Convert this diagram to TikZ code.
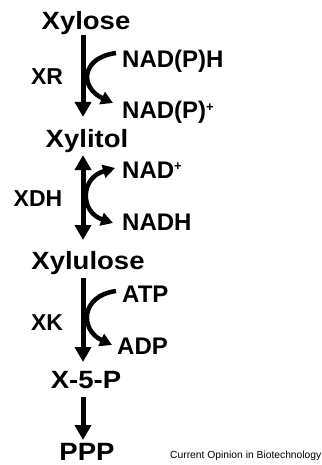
\documentclass[tikz,border=0pt]{standalone}
\usepackage{fontspec}
\setmainfont{Liberation Sans}
\newfontfamily\widesans[FakeStretch=1.1]{Liberation Sans}
\usetikzlibrary{arrows.meta}
\newcommand{\supplus}{\raisebox{7pt}{\fontsize{13}{13}\selectfont\bfseries+}}
\tikzset{
  metab/.style={font=\widesans\fontsize{25}{25}\selectfont\bfseries, inner sep=0pt, anchor=base},
  enz/.style={font=\fontsize{23}{23}\selectfont\bfseries, inner sep=0pt, anchor=base},
  cof/.style={font=\fontsize{24}{24}\selectfont\bfseries, inner sep=0pt, anchor=base west},
  mainarrow/.style={line width=5pt, -{Triangle[length=15pt,width=16pt]}},
  mainboth/.style={line width=5pt, {Triangle[length=15pt,width=16pt]}-{Triangle[length=15pt,width=16pt]}},
  sidearrow/.style={line width=4.5pt, -{Triangle[length=12pt,width=13pt]}},
  sideboth/.style={line width=4.5pt, {Triangle[length=12pt,width=13pt]}-{Triangle[length=12pt,width=13pt]}},
}
\begin{document}
\begin{tikzpicture}[x=1pt,y=-1pt]
\useasboundingbox (0,0) rectangle (321,465);

% metabolites
\node[metab] (xylose)   at (86,30)  {Xylose};
\node[metab] (xylitol)  at (87,147) {Xylitol};
\node[metab] (xylulose) at (88,269) {Xylulose};
\node[metab] (x5p)      at (86,388) {X-5-P};
\node[metab] (ppp)      at (87,460) {PPP};

% enzymes
\node[enz] (xr)  at (47,85)  {XR};
\node[enz] (xdh) at (38,206) {XDH};
\node[enz] (xk)  at (47,330) {XK};

% cofactors
\node[cof] (nadph)   at (122,68)  {NAD(P)H};
\node[cof] (nadp)    at (122,119) {NAD(P)\supplus};
\node[cof] (nadplus) at (122,178) {NAD\supplus};
\node[cof] (nadh)    at (122,230) {NADH};
\node[cof] (atp)     at (122,302) {ATP};
\node[cof] (adp)     at (117,354) {ADP};

% arrow end points
\coordinate (a1s) at (83,35);   \coordinate (a1e) at (83,117);
\coordinate (c1s) at (116,53);  \coordinate (c1e) at (113,103);
\coordinate (a2s) at (83,155);  \coordinate (a2e) at (83,240);
\coordinate (c2s) at (115,168); \coordinate (c2e) at (113,223);
\coordinate (a3s) at (83,278);  \coordinate (a3e) at (83,362);
\coordinate (c3s) at (116,291); \coordinate (c3e) at (112,345);
\coordinate (a4s) at (83,397);  \coordinate (a4e) at (83,440);

% reaction steps
\draw[mainarrow] (a1s) -- (a1e);
\draw[sidearrow] (c1s) .. controls (80,58) and (80,88) .. (c1e);
\draw[mainboth] (a2s) -- (a2e);
\draw[sideboth] (c2s) .. controls (80,178) and (80,212) .. (c2e);
\draw[mainarrow] (a3s) -- (a3e);
\draw[sidearrow] (c3s) .. controls (80,296) and (80,330) .. (c3e);
\draw[mainarrow] (a4s) -- (a4e);

% source line
\node[font=\fontsize{10.3}{10.3}\selectfont, inner sep=0pt, anchor=base west] (src) at (170,458) {Current Opinion in Biotechnology};
\end{tikzpicture}
\end{document}
